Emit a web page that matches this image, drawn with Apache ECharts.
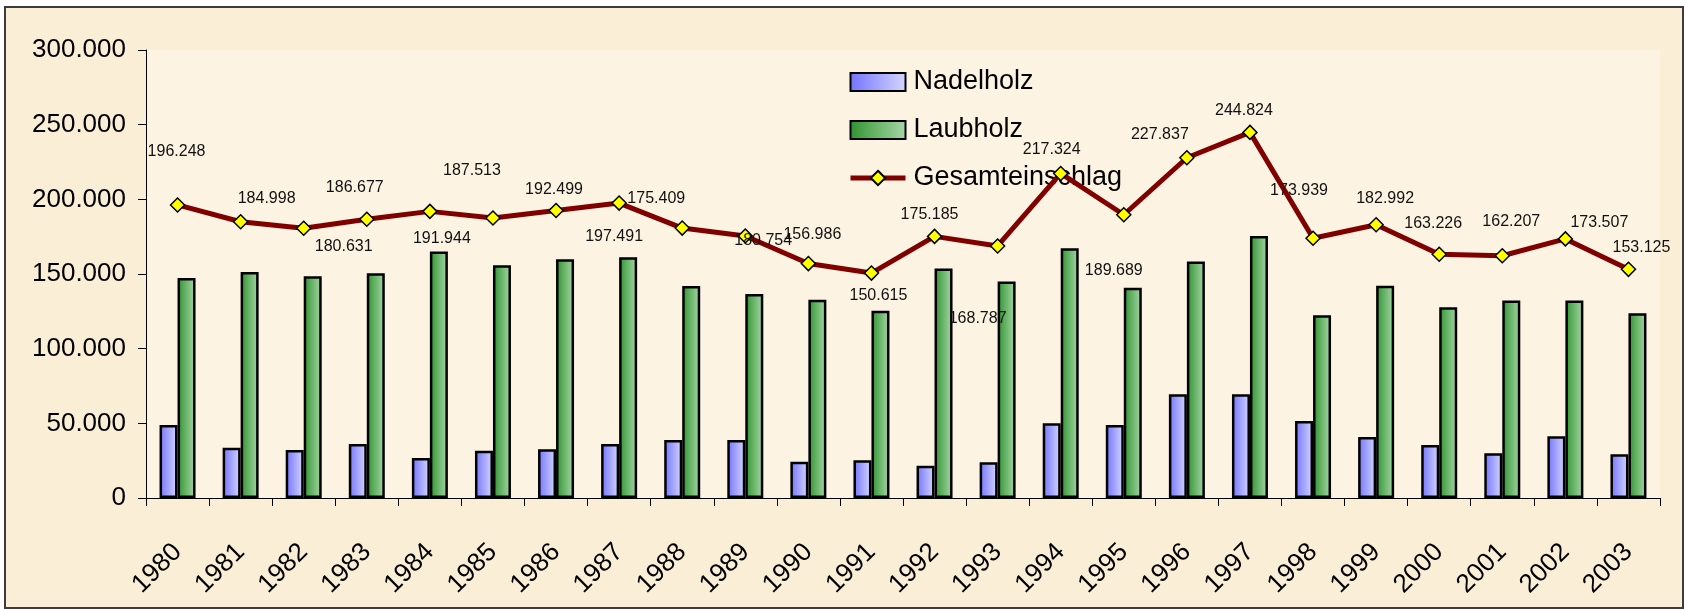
<!DOCTYPE html>
<html>
<head>
<meta charset="utf-8">
<title>Holzeinschlag 1980-2003</title>
<script src="https://cdn.jsdelivr.net/npm/echarts@6/dist/echarts.min.js"></script>
<style>
  html, body { margin: 0; padding: 0; background: #fff; }
  #frame {
    position: absolute; left: 4px; top: 6px; width: 1676px; height: 599px;
    border: 2px solid #3c3c3c; background: #faeed7;
  }
  #chart { position: absolute; left: 0; top: 0; width: 1686px; height: 609px; }
</style>
</head>
<body>
<div id="frame"></div>
<div id="chart"></div>
<script>
const years = ['1980', '1981', '1982', '1983', '1984', '1985', '1986', '1987', '1988', '1989', '1990', '1991',
  '1992', '1993', '1994', '1995', '1996', '1997', '1998', '1999', '2000', '2001', '2002', '2003']
const nadelholz = [48900, 33700, 32100, 36200, 26800, 31700, 32600, 36200, 38800, 38800, 24300, 25200,
  21600, 23900, 50000, 48900, 69400, 69400, 51600, 40800, 35500, 29900, 41300, 29300]
const laubholz = [147300, 151300, 148500, 150500, 165100, 155800, 159900, 161300, 142000, 136600, 132700, 125400,
  153600, 144900, 167300, 140800, 158400, 175400, 122300, 142200, 127700, 132300, 132200, 123800]
const gesamt = [196248, 184998, 180631, 186677, 191944, 187513, 192499, 197491, 180754, 175409, 156986, 150615,
  175185, 168787, 217324, 189689, 227837, 244824, 173939, 182992, 163226, 162207, 173507, 153125]
const yTicks = { min: 0, max: 300000, interval: 50000 }

// where each value label sits relative to its marker (pixels), as in the original sheet
const labelOffsets = [[-1, -53], [26, -23], [40, 18], [-12, -32], [12, 27], [-21, -47], [-2, -21], [-5, 34],
  [81, 13], [-89, -37], [4, -29], [7, 23], [-5, -22], [-20, 73], [-9, -24], [-10, 56],
  [-27, -23], [-6, -22], [-14, -48], [9, -26], [-6, -31], [9, -34], [34, -16], [13, -22]]

const font = 'Arial, "Liberation Sans", sans-serif'

function fmt(v) {
  return String(Math.round(v)).replace(/\B(?=(\d{3})+(?!\d))/g, '.')
}

const chart = echarts.init(document.getElementById('chart'), null, { renderer: 'canvas' })

const blueFill = new echarts.graphic.LinearGradient(0, 0, 1, 0, [
  { offset: 0, color: '#7373ff' },
  { offset: 1, color: '#d6d6ff' }
])
const greenFill = new echarts.graphic.LinearGradient(0, 0, 1, 0, [
  { offset: 0, color: '#2f8f2f' },
  { offset: 0.35, color: '#5aad5a' },
  { offset: 1, color: '#a9d6a9' }
])

chart.setOption({
  backgroundColor: 'transparent',
  animation: false,
  textStyle: { fontFamily: font },
  grid: {
    left: 146,
    right: 26,
    top: 50,
    bottom: 111,
    show: true,
    borderWidth: 0,
    backgroundColor: '#fcf3e2'
  },
  legend: {
    orient: 'vertical',
    left: 843,
    top: 62,
    itemWidth: 55,
    itemHeight: 18,
    itemGap: 18,
    textStyle: { fontSize: 27, color: '#000', lineHeight: 30, padding: [0, 0, 0, 3] },
    data: [
      { name: 'Nadelholz', icon: 'rect' },
      { name: 'Laubholz', icon: 'rect' },
      { name: 'Gesamteinschlag', lineStyle: { color: '#800000', width: 5 } }
    ]
  },
  xAxis: {
    type: 'category',
    data: years,
    axisLine: { lineStyle: { color: '#000', width: 1 } },
    axisTick: { show: true, length: 8, lineStyle: { color: '#000' } },
    axisLabel: { rotate: 45, fontSize: 26, color: '#000', margin: 50, interval: 0 }
  },
  yAxis: {
    type: 'value',
    min: yTicks.min,
    max: yTicks.max,
    interval: yTicks.interval,
    splitLine: { show: false },
    axisLine: { show: true, lineStyle: { color: '#000', width: 1 } },
    axisTick: { show: true, length: 8, lineStyle: { color: '#000' } },
    axisLabel: { fontSize: 26, color: '#000', margin: 20, formatter: fmt }
  },
  series: [
    {
      name: 'Nadelholz',
      type: 'bar',
      data: nadelholz,
      barWidth: 18,
      barGap: '0%',
      itemStyle: { color: blueFill, borderColor: '#000', borderWidth: 2.5 }
    },
    {
      name: 'Laubholz',
      type: 'bar',
      data: laubholz,
      barWidth: 18,
      itemStyle: { color: greenFill, borderColor: '#000', borderWidth: 2.5 }
    },
    {
      name: 'Gesamteinschlag',
      type: 'line',
      z: 5,
      data: gesamt.map((v, i) => ({ value: v, label: { offset: labelOffsets[i] } })),
      symbol: 'diamond',
      symbolSize: 14,
      lineStyle: { color: '#800000', width: 5 },
      itemStyle: { color: '#ffff00', borderColor: '#000', borderWidth: 1.5 },
      label: {
        show: true,
        position: 'inside',
        fontSize: 16,
        color: '#111',
        formatter: p => fmt(p.value)
      }
    }
  ]
})
</script>
</body>
</html>
